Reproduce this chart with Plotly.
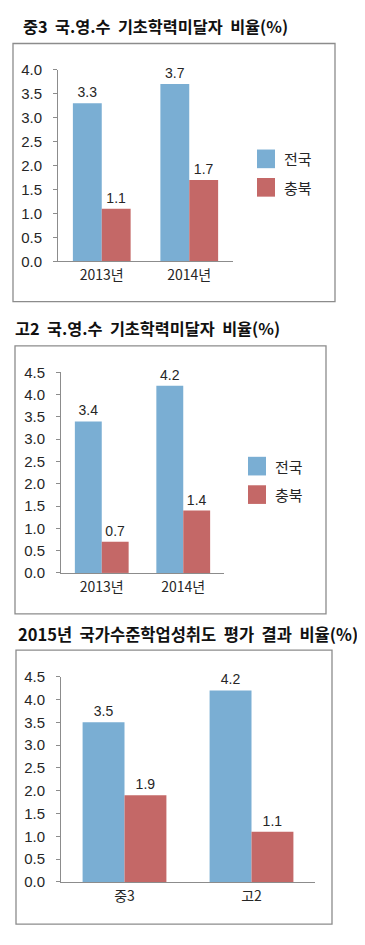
import plotly.graph_objects as go

# ---- data ----
years = ["2013년", "2014년"]
mid3_national = [3.3, 3.7]
mid3_chungbuk = [1.1, 1.7]
high2_national = [3.4, 4.2]
high2_chungbuk = [0.7, 1.4]
cat2015 = ["중3", "고2"]
y2015_national = [3.5, 4.2]
y2015_chungbuk = [1.9, 1.1]
series_names = ["전국", "충북"]
titles = ["중3  국.영.수  기초학력미달자  비율(%)",
          "고2  국.영.수  기초학력미달자  비율(%)",
          "2015년  국가수준학업성취도  평가  결과  비율(%)"]

# page is 365x945; the html body has an 8px margin, so the figure is 349x929
PAGE_MARGIN = 8
W, H = 365 - 2 * PAGE_MARGIN, 945 - 2 * PAGE_MARGIN
BLUE = "#7AAED3"
RED = "#C46867"
GRAY = "#8C8C8C"
TXT = "#262626"
FONT = "Liberation Sans, Noto Sans CJK KR, sans-serif"
KFONT = "Noto Sans CJK KR, sans-serif"

def px(x):
    return (x - PAGE_MARGIN) / W

def py(y):
    return 1 - (y - PAGE_MARGIN) / H

fig = go.Figure()

panels = [
    dict(cats=years, a=mid3_national, b=mid3_chungbuk, ymax=4.0,
         xd=(58, 233), yd=(61.7, 257), box=(13, 35, 335, 298),
         title_xy=(21, 17), title_size=16.3, legend=(257, 143, 282)),
    dict(cats=years, a=high2_national, b=high2_chungbuk, ymax=4.5,
         xd=(61, 224), yd=(370, 574.3), box=(15, 343, 326, 616),
         title_xy=(13, 325), title_size=16.3, legend=(248, 456, 273)),
    dict(cats=cat2015, a=y2015_national, b=y2015_chungbuk, ymax=4.5,
         xd=(61, 315), yd=(680, 889), box=(16, 653, 332, 932),
         title_xy=(16, 637), title_size=16.5, legend=None),
]

shapes = []
annotations = []
layout_axes = {}
for i, p in enumerate(panels):
    n = "" if i == 0 else str(i + 1)
    xa, ya = "x" + n, "y" + n
    for vals, color, name in ((p["a"], BLUE, series_names[0]), (p["b"], RED, series_names[1])):
        fig.add_trace(go.Bar(
            x=p["cats"], y=vals, name=name, marker=dict(color=color, line=dict(width=0)),
            text=[f"{v:.1f}" for v in vals], textposition="outside",
            textfont=dict(family=FONT, size=14, color=TXT),
            cliponaxis=False, xaxis=xa, yaxis=ya, showlegend=False,
        ))
    layout_axes["xaxis" + n] = dict(
        domain=[px(p["xd"][0]), px(p["xd"][1])], anchor=ya,
        type="category", showline=True, linecolor=GRAY, linewidth=1,
        ticks="", showgrid=False, zeroline=False,
        tickfont=dict(family=KFONT, size=14, color=TXT), ticklabelstandoff=1,
    )
    layout_axes["yaxis" + n] = dict(
        domain=[py(p["yd"][1]), py(p["yd"][0])], anchor=xa,
        range=[0, p["ymax"]], dtick=0.5, tickformat=".1f",
        showline=True, linecolor=GRAY, linewidth=1,
        ticks="outside", ticklen=4, tickcolor=GRAY,
        showgrid=False, zeroline=False, ticklabelstandoff=8,
        tickfont=dict(family=FONT, size=15, color=TXT),
    )
    x0, y0, x1, y1 = p["box"]
    shapes.append(dict(type="rect", xref="paper", yref="paper",
                       x0=px(x0), x1=px(x1), y0=py(y1), y1=py(y0),
                       line=dict(color=GRAY, width=1.3), fillcolor="rgba(0,0,0,0)"))
    tx, ty = p["title_xy"]
    annotations.append(dict(text="<b>" + titles[i].replace("  ", "&nbsp; ") + "</b>", xref="paper", yref="paper",
                            x=px(tx), y=py(ty), xanchor="left", yanchor="middle",
                            showarrow=False, font=dict(family=KFONT, size=p["title_size"], color="#111")))
    if p["legend"]:
        lx, ly, tx2 = p["legend"]
        for k, (c, name) in enumerate(((BLUE, series_names[0]), (RED, series_names[1]))):
            top = ly + k * 29
            shapes.append(dict(type="rect", xref="paper", yref="paper",
                               x0=px(lx), x1=px(lx + 18), y0=py(top + 19), y1=py(top),
                               line=dict(width=0), fillcolor=c))
            annotations.append(dict(text=name, xref="paper", yref="paper",
                                    x=px(tx2), y=py(top + 9.5), xanchor="left", yanchor="middle",
                                    showarrow=False, font=dict(family=KFONT, size=15, color=TXT)))

fig.update_layout(
    width=W, height=H, margin=dict(l=0, r=0, t=0, b=0),
    paper_bgcolor="white", plot_bgcolor="white",
    barmode="group", bargap=0.34, bargroupgap=0,
    showlegend=False, shapes=shapes, annotations=annotations,
    **layout_axes,
)

fig.write_html("out.html")
